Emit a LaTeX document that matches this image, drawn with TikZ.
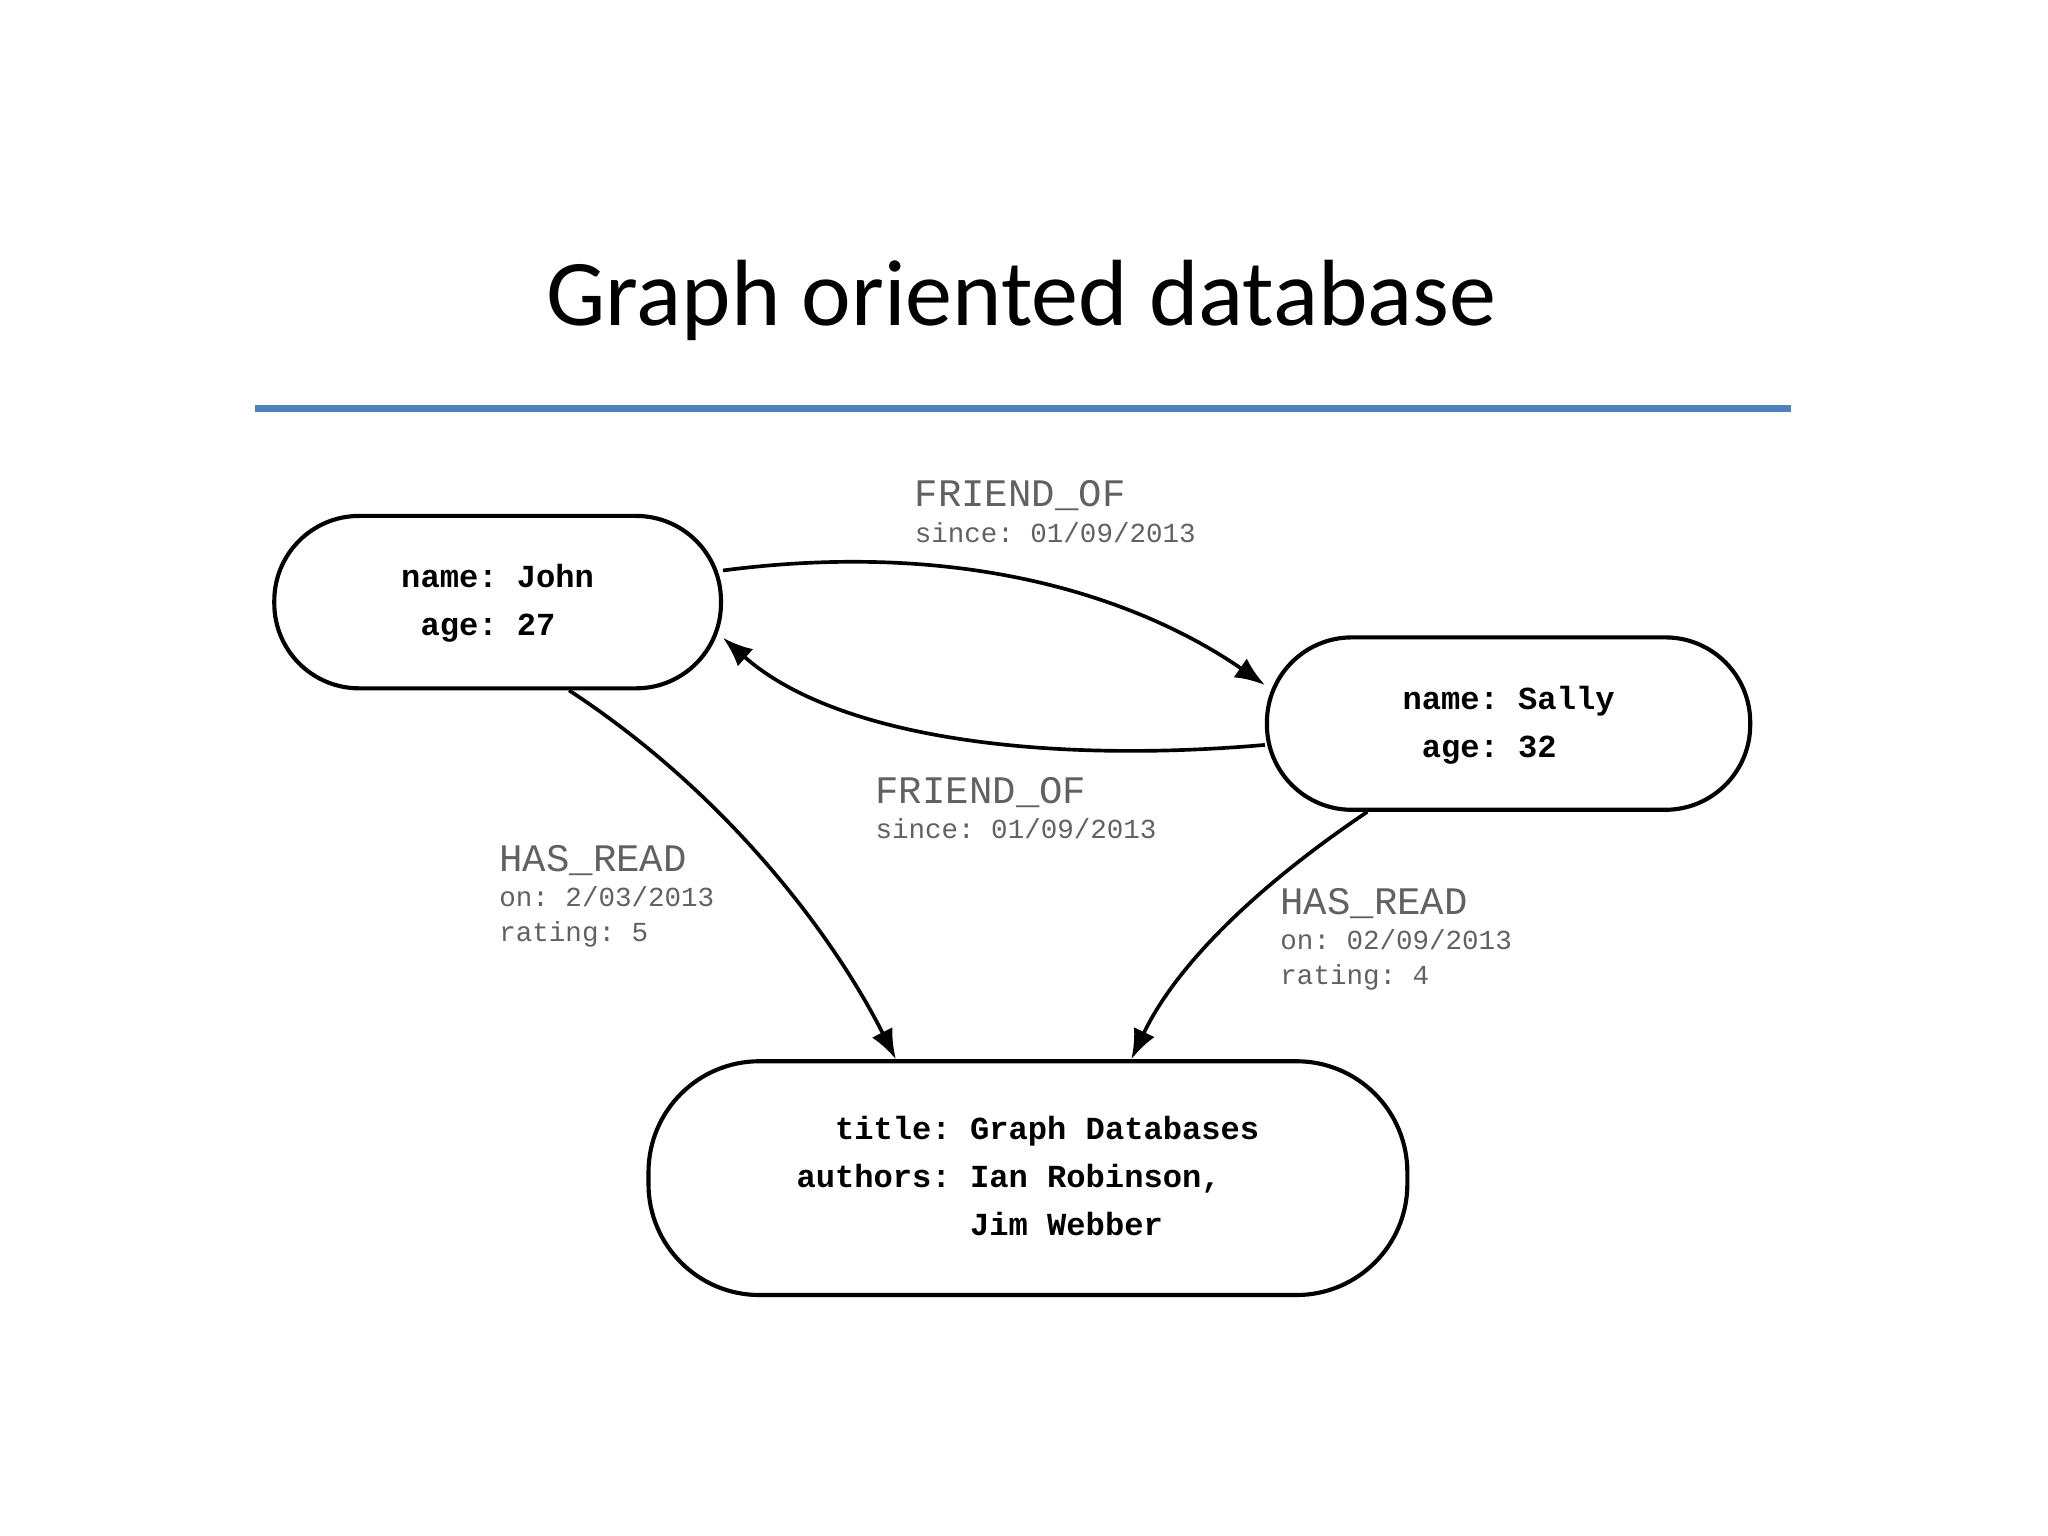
\documentclass[tikz,border=0pt]{standalone}
\usepackage{fontspec}
\setmainfont{Carlito}
\setmonofont{Liberation Mono}
\usetikzlibrary{arrows.meta}
\begin{document}
\begin{tikzpicture}[x=0.02cm,y=-0.02cm,
  ent/.style={draw,line width=1.8pt,rounded corners=1.3cm,font=\ttfamily\bfseries\fontsize{14}{21}\selectfont,inner sep=0pt},
  big/.style={anchor=base west,text=black!62,inner sep=0pt,font=\ttfamily\fontsize{17}{20}\selectfont},
  small/.style={anchor=base west,text=black!62,inner sep=0pt,font=\ttfamily\fontsize{12}{14}\selectfont},
  rel/.style={line width=1.6pt,-{Latex[length=13pt,width=10pt]}}]
\useasboundingbox (0,0) rectangle (1568,1176);
\node (title) at (782,230) {\fontsize{41}{48}\selectfont Graph oriented database};
\draw[line width=3pt,color={rgb,255:red,79;green,129;blue,189}] (195,313) coordinate (la) -- (1371,313) coordinate (lb);
\node[ent,minimum width=342*0.02cm,minimum height=132*0.02cm] (john) at (381,461)
  {\begin{tabular}{@{}r@{ }l@{}}name:&John\\age:&27\end{tabular}};
\node[ent,minimum width=370*0.02cm,minimum height=132*0.02cm] (sally) at (1155,554)
  {\begin{tabular}{@{}r@{ }l@{}}name:&Sally\\age:&32\end{tabular}};
\node[ent,minimum width=581*0.02cm,minimum height=179*0.02cm,rounded corners=1.7cm] (book) at (787,902)
  {\begin{tabular}{@{}r@{ }l@{}}title:&Graph Databases\\authors:&Ian Robinson,\\&Jim Webber\end{tabular}};
\draw[rel] (john.8) .. controls (760,410) and (890,470) .. (sally.171);
\draw[rel] (sally.185) .. controls (800,585) and (640,565) .. (john.-9);
\draw[rel] (john.-51) .. controls (560,610) and (640,720) .. (book.138);
\draw[rel] (sally.-148) .. controls (960,680) and (900,740) .. (book.49);
\node[big] (l1a) at (700,388) {FRIEND\_OF};
\node[small] (l1b) at (700,415) {since: 01/09/2013};
\node[big] (l2a) at (670,615) {FRIEND\_OF};
\node[small] (l2b) at (670,642) {since: 01/09/2013};
\node[big] (l3a) at (382,667) {HAS\_READ};
\node[small] (l3b) at (382,694) {on: 2/03/2013};
\node[small] (l3c) at (382,721) {rating: 5};
\node[big] (l4a) at (980,700) {HAS\_READ};
\node[small] (l4b) at (980,727) {on: 02/09/2013};
\node[small] (l4c) at (980,754) {rating: 4};
\end{tikzpicture}
\end{document}
